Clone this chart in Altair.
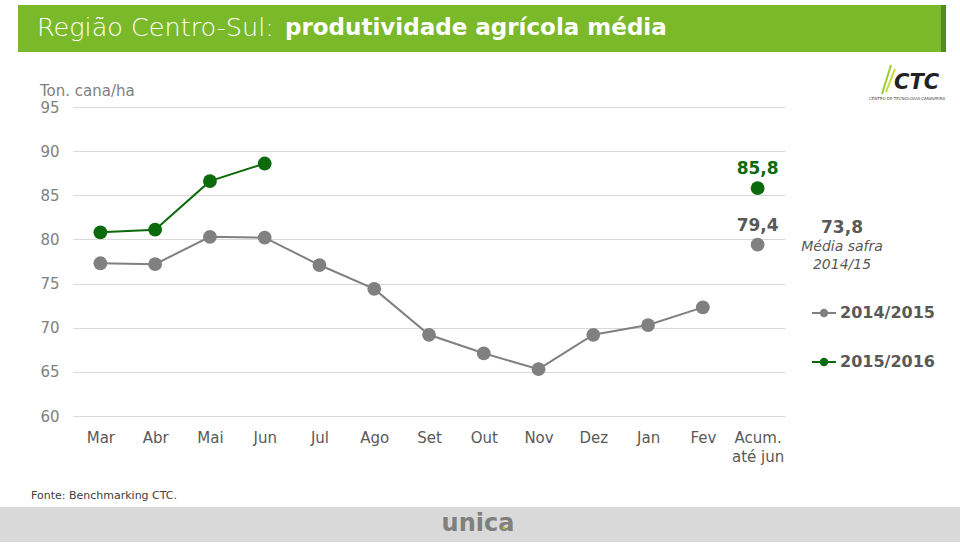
import altair as alt
import pandas as pd

# ---- data ----
months = ["Mar", "Abr", "Mai", "Jun", "Jul", "Ago", "Set", "Out", "Nov", "Dez", "Jan", "Fev"]
acum_label = "Acum."
safra_1415 = [77.3, 77.2, 80.3, 80.2, 77.1, 74.4, 69.2, 67.1, 65.3, 69.2, 70.3, 72.3]
safra_1516 = [80.8, 81.1, 86.6, 88.6]
acum_1415 = 79.4
acum_1516 = 85.8
media_safra_1415 = "73,8"
y_ticks = [60, 65, 70, 75, 80, 85, 90, 95]

GRAY = "#808080"
GREEN = "#0b6a0b"
DARK = "#595959"
FONT = "DejaVu Sans"

order = months + [acum_label]

rows = []
for m, v in zip(months, safra_1415):
    rows.append({"mes": m, "valor": v, "serie": "2014/2015"})
for m, v in zip(months, safra_1516):
    rows.append({"mes": m, "valor": v, "serie": "2015/2016"})
df_lines = pd.DataFrame(rows)

df_acum = pd.DataFrame([
    {"mes": acum_label, "valor": acum_1415, "serie": "2014/2015",
     "rotulo": f"{acum_1415:.1f}".replace(".", ","), "cor_txt": DARK},
    {"mes": acum_label, "valor": acum_1516, "serie": "2015/2016",
     "rotulo": f"{acum_1516:.1f}".replace(".", ","), "cor_txt": GREEN},
])

color_scale = alt.Scale(domain=["2014/2015", "2015/2016"], range=[GRAY, GREEN])

x_enc = alt.X(
    "mes:O", sort=order, title=None,
    scale=alt.Scale(domain=order),
    axis=alt.Axis(
        domain=False, ticks=False, grid=False, labelAngle=0,
        labelFontSize=15, labelColor=DARK, labelFont=FONT, labelPadding=14,
        labelLineHeight=19,
        labelExpr="datum.value == 'Acum.' ? ['Acum.', 'até jun'] : datum.label",
    ),
)
y_enc = alt.Y(
    "valor:Q", title=None,
    scale=alt.Scale(domain=[60, 95], nice=False, zero=False),
    axis=alt.Axis(
        values=y_ticks, domain=False, ticks=False, grid=True,
        gridColor="#d9d9d9", gridWidth=1,
        labelFontSize=15, labelColor=GRAY, labelFont=FONT, labelPadding=14,
    ),
)

base_lines = alt.Chart(df_lines)
lines = base_lines.mark_line(strokeWidth=2).encode(
    x=x_enc, y=y_enc,
    color=alt.Color("serie:N", scale=color_scale, legend=None),
    detail="serie:N",
)
points = base_lines.mark_circle(size=190, opacity=1).encode(
    x=x_enc, y=y_enc,
    color=alt.Color("serie:N", scale=color_scale, legend=None),
)
acum_pts = alt.Chart(df_acum).mark_circle(size=190, opacity=1).encode(
    x=x_enc, y=y_enc,
    color=alt.Color("serie:N", scale=color_scale, legend=None),
)
acum_txt = alt.Chart(df_acum).mark_text(
    fontSize=17, fontWeight="bold", font=FONT, dy=-19, baseline="middle"
).encode(
    x=x_enc, y=y_enc, text="rotulo:N",
    color=alt.Color("cor_txt:N", scale=None, legend=None),
)

# ---- decorations (pixel positions relative to plot origin) ----
one = pd.DataFrame({"k": [0]})


def rect(x1, x2, y1, y2, color):
    return alt.Chart(one).mark_rect(color=color).encode(
        x=alt.value(x1), x2=alt.value(x2), y=alt.value(y1), y2=alt.value(y2))


def text(s, x, y, size, color, weight="normal", align="left", style="normal", font=FONT):
    return alt.Chart(one).mark_text(
        text=s, fontSize=size, color=color, fontWeight=weight, align=align,
        baseline="middle", fontStyle=style, font=font,
    ).encode(x=alt.value(x), y=alt.value(y))


title_bar = rect(-55, 868, -102, -55, "#7ab929")
title_edge = rect(868, 873, -102, -55, "#568a1c")
title1 = text("Região Centro-Sul:", -36, -79, 25.5, "white", weight=300)
title2 = text("produtividade agrícola média", 212, -79, 23, "white", weight="bold")

y_title = text("Ton. cana/ha", -33, -16, 15, GRAY)

media_val = text(media_safra_1415, 769, 121, 17, DARK, weight="bold", align="center")
media_l1 = text("Média safra", 769, 140, 14, DARK, align="center", style="italic")
media_l2 = text("2014/15", 769, 158, 14, DARK, align="center", style="italic")


def legend_item(label, color, y):
    ln = alt.Chart(one).mark_rule(color=color, strokeWidth=2).encode(
        x=alt.value(739), x2=alt.value(763), y=alt.value(y))
    pt = alt.Chart(one).mark_circle(color=color, size=70, opacity=1).encode(
        x=alt.value(751), y=alt.value(y))
    tx = text(label, 767, y, 16, DARK, weight="bold")
    return ln + pt + tx


leg1 = legend_item("2014/2015", GRAY, 206)
leg2 = legend_item("2015/2016", GREEN, 255)

ctc = text("CTC", 821, -24, 21, "#222222", weight="bold", style="italic")
ctc_sub = text("CENTRO DE TECNOLOGIA CANAVIEIRA", 834, -8, 4, "#444444", align="center")
leaf1 = alt.Chart(one).mark_rule(color="#9acd32", strokeWidth=2).encode(
    x=alt.value(809), x2=alt.value(818), y=alt.value(-13), y2=alt.value(-42))
leaf2 = alt.Chart(one).mark_rule(color="#c8d930", strokeWidth=2).encode(
    x=alt.value(813), x2=alt.value(822), y=alt.value(-15), y2=alt.value(-38))

fonte = text("Fonte: Benchmarking CTC.", -42, 389, 11, "#404040")
footer = rect(-73, 887, 400, 435, "#d9d9d9")
unica = text("unica", 405, 417, 24, "#7f7f7f", weight="bold", align="center")
unica_dot = alt.Chart(one).mark_circle(color="#9acd32", size=10, opacity=1).encode(
    x=alt.value(431), y=alt.value(421))

chart = alt.layer(
    title_bar, title_edge, title1, title2, y_title,
    lines, points, acum_pts, acum_txt,
    media_val, media_l1, media_l2, leg1, leg2,
    leaf1, leaf2, ctc, ctc_sub,
    footer, fonte, unica, unica_dot,
).properties(
    width=712, height=309,
    autosize=alt.AutoSizeParams(type="none"),
    padding={"left": 73, "top": 107, "right": 175, "bottom": 128},
    background="white",
).configure_view(strokeWidth=0)

chart.save("out.html", embed_options={"renderer": "svg", "actions": False})
